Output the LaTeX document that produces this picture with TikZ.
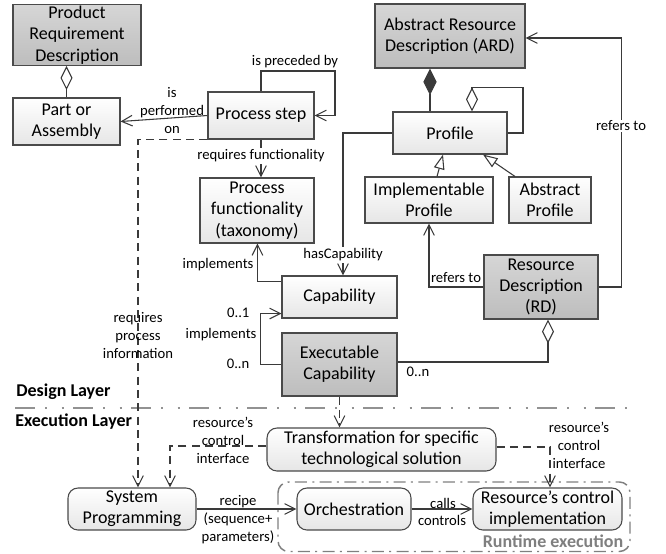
\documentclass[tikz,border=0pt]{standalone}
\usepackage{fontspec}
\setmainfont{Carlito}
\usetikzlibrary{arrows.meta,calc}
\definecolor{boxline}{HTML}{4A4A4A}
\definecolor{connline}{HTML}{3A3A3A}
\definecolor{lightbot}{HTML}{E6E6E6}
\definecolor{darktop}{HTML}{D6D6D6}
\definecolor{darkbot}{HTML}{BDBDBD}
\definecolor{layergray}{HTML}{929292}
\definecolor{rtgray}{HTML}{7F7F7F}
\begin{document}
\begin{tikzpicture}[x=0.75pt,y=-0.75pt,
  box/.style={draw=boxline, line width=0.8pt, top color=white, bottom color=lightbot,
    align=center, inner sep=1pt, font=\fontsize{13.5}{16}\selectfont},
  darkbox/.style={box, top color=darktop, bottom color=darkbot},
  rbox/.style={box, rounded corners=7.5pt},
  lbl/.style={font=\fontsize{11}{13.5}\selectfont, align=center, inner sep=1pt},
  conn/.style={line width=0.8pt, draw=connline},
  arr/.style={conn, -{Straight Barb[length=8pt,width=8pt]}},
  dasharr/.style={arr, dash pattern=on 6pt off 4pt},
  gen/.style={conn, -{Triangle[open,length=11pt,width=8pt,fill=white]}},
  agg/.style={conn, {Diamond[open,length=18pt,width=9pt,fill=white]}-},
  comp/.style={conn, {Diamond[length=20pt,width=10pt]}-},
  layerbold/.style={font=\fontsize{13.5}{16}\selectfont\bfseries, inner sep=0pt}
]
\useasboundingbox (0,0) rectangle (666,553);

% ---------- design layer: classes ----------
\node[darkbox, minimum width=96pt, minimum height=45pt] (prd) at (77,35)
  {Product\\Requirement\\Description};
\node[box, minimum width=80.25pt, minimum height=35.25pt] (part) at (66.5,121.5)
  {Part or\\Assembly};
\node[box, minimum width=79.5pt, minimum height=35.25pt] (step) at (261,115.5)
  {Process step};
\node[box, minimum width=85.5pt, minimum height=48.75pt] (func) at (257,210.5)
  {Process\\functionality\\(taxonomy)};
\node[box, minimum width=86.25pt, minimum height=31.5pt] (cap) at (339.5,297)
  {Capability};
\node[darkbox, minimum width=86.25pt, minimum height=47.25pt] (exec) at (339.5,364.5)
  {Executable\\Capability};
\node[darkbox, minimum width=112.5pt, minimum height=48pt] (ard) at (450,36)
  {Abstract Resource\\Description (ARD)};
\node[box, minimum width=85.5pt, minimum height=31.5pt] (profile) at (450,133)
  {Profile};
\node[box, minimum width=96pt, minimum height=34.5pt] (impl) at (429,200)
  {Implementable\\Profile};
\node[box, minimum width=61.5pt, minimum height=34.5pt] (abs) at (550,200)
  {Abstract\\Profile};
\node[darkbox, minimum width=85.5pt, minimum height=48pt] (rd) at (541,287)
  {Resource\\Description\\(RD)};

% ---------- design layer: relations ----------
\draw[agg] (prd.south -| part.north) -- (part.north);
\draw[arr] (step.west) -- (part.east);
\node[lbl] (lperf) at (172,111) {is\\performed\\on};

\coordinate (loopc) at (335,71);
\draw[arr] (step.north) |- (loopc) |- (step.east);
\node[lbl] (lprec) at (295,62) {is preceded by};

\draw[arr] (step.south) -- (step.south |- func.north);
\node[lbl, fill=white] (lreqf) at (261,156) {requires functionality};

\draw[arr] ($(cap.north west)+(0,6)$) -| ($(func.south west)+(58,0)$);
\node[lbl, anchor=east] (limpl1) at (255,265) {implements};

\draw[arr] (exec.west) -- ++(-21,0) |- ($(cap.south west)+(0,-5)$);
\node[lbl, anchor=east] (lm01) at (251,313) {0..1};
\node[lbl, anchor=east] (limpl2) at (258,335) {implements};
\node[lbl, anchor=east] (lm0n) at (251,364) {0..n};

\draw[arr] (profile.west) -| ($(cap.north)+(3.5,0)$);
\node[lbl, fill=white] (lhas) at (343,255) {hasCapability};

\draw[comp] ($(ard.south)+(-20,0)$) -- ($(profile.north)+(-20,0)$);
\draw[agg] ($(profile.north)+(22,0)$) -- ++(0,-24) -- ++(51,0) |- (profile.east);

\draw[gen] ($(impl.north)+(8,0)$) -- ($(profile.south)+(-7,0)$);
\draw[gen] ($(abs.north)+(-35,0)$) -- ($(profile.south)+(33,0)$);

\draw[arr] (rd.west) -| (impl.south);
\node[lbl] (lref1) at (456,278) {refers to};

\draw[arr] (rd.east) -- ++(23,0) |- ($(ard.east)+(0,2)$);
\node[lbl, fill=white] (lref2) at (621,126) {refers to};

\draw[agg] ($(rd.south)+(7,0)$) |- ($(exec.east)+(0,-2.5)$);
\node[lbl] (lrd0n) at (418,372) {0..n};

% ---------- layer separator ----------
\coordinate (sepL) at (15,408);
\coordinate (sepR) at (628,408);
\draw[layergray, line width=1.8pt,
  dash pattern=on 15pt off 7.5pt on 1.5pt off 11pt on 1.5pt off 7pt] (sepL) -- (sepR);
\node[layerbold, anchor=west] (ldesign) at (16,392) {Design Layer};
\node[layerbold, anchor=west] (lexec) at (15,422) {Execution Layer};

% ---------- execution layer ----------
\draw[rtgray, line width=1.1pt, rounded corners=8pt,
  dash pattern=on 9pt off 4pt on 1.5pt off 4pt] (278,482) rectangle (630,551.5);
\node[font=\fontsize{13.5}{16}\selectfont\bfseries, text=rtgray, inner sep=0pt]
  (lrt) at (553,541) {Runtime execution};

\node[rbox, minimum width=171.75pt, minimum height=32.25pt] (trans) at (381.5,449.5)
  {Transformation for specific\\technological solution};
\node[rbox, minimum width=96pt, minimum height=31.5pt] (sys) at (132,509)
  {System\\Programming};
\node[rbox, minimum width=85.5pt, minimum height=31.5pt] (orch) at (354,509)
  {Orchestration};
\node[rbox, minimum width=111.75pt, minimum height=31.5pt] (rci) at (547.5,509)
  {Resource’s control\\implementation};

\draw[dasharr] (step.south west) -| ($(sys.north)+(6,0)$);
\node[lbl] (lreqp) at (138,336) {requires\\process\\information};

\draw[dasharr] (exec.south) -- (exec.south |- trans.north);

\draw[dasharr] ($(trans.west)+(0,-3.5)$) -| ($(sys.north)+(38,0)$);
\node[lbl] (lrci1) at (223,440) {resource's\\control\\interface};

\draw[dasharr] ($(trans.east)+(0,-2.5)$) -| ($(rci.north)+(2.5,0)$);
\node[lbl] (lrci2) at (579,445) {resource's\\control\\interface};

\draw[arr] (sys.east) -- (orch.west);
\node[lbl] (lrecipe) at (238,520) {recipe\\(sequence+\\parameters)};

\draw[arr] (orch.east) -- (rci.west);
\node[lbl] (lcalls) at (443,503) {calls};
\node[lbl] (lctrl) at (442,520) {controls};
\end{tikzpicture}
\end{document}
